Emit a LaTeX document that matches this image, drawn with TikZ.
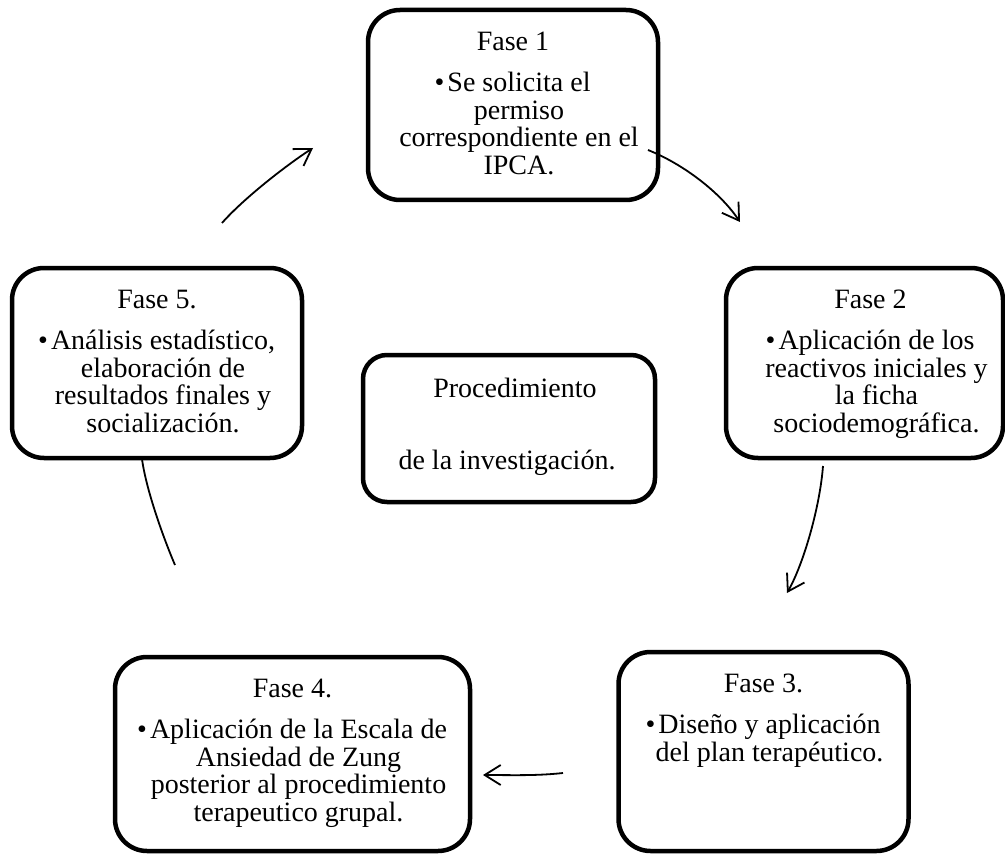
\documentclass[tikz,border=0pt]{standalone}
\usepackage{fontspec}
\setmainfont{Liberation Serif}
\usetikzlibrary{arrows.meta,calc}
\newcommand{\bfnt}{\fontsize{28}{27.5}\selectfont\lineskiplimit=-50pt\relax}
\newcommand{\fstl}{\rule{0pt}{26pt}\llap{•\kern3pt}}
\begin{document}
\begin{tikzpicture}[x=1pt,y=-1pt,
  box/.style={draw=black, line width=4.5pt, fill=white, rounded corners=#1, inner sep=0pt},
  box/.default=32pt,
  ttl/.style={anchor=base, inner sep=0pt, font=\bfnt},
  body/.style={anchor=north, inner sep=0pt, align=center, font=\bfnt},
  arr/.style={line width=1.8pt, -{Straight Barb[length=16pt,width=20pt,line width=1.8pt]}},
  conn/.style={line width=1.8pt}]
\useasboundingbox (0,0) rectangle (1005,856);
% boxes
\node[box, minimum width=290pt, minimum height=190pt] (b1) at (513,105) {};
\node[box, minimum width=277pt, minimum height=190pt] (b2) at (864.5,363) {};
\node[box, minimum width=290pt, minimum height=199pt] (b3) at (763.5,751.5) {};
\node[box, minimum width=355pt, minimum height=194pt] (b4) at (292.5,754) {};
\node[box, minimum width=290pt, minimum height=190pt] (b5) at (157,363) {};
\node[box=24pt, minimum width=292pt, minimum height=147pt] (bc) at (509,428.5) {};
% texts
\node[ttl] (t1) at ($(b1.north)+(0,43)$) {Fase 1};
\node[body] (d1) at ($(b1.north)+(6,58)$) {\fstl Se solicita el\\permiso\\correspondiente en el\\IPCA.};
\node[ttl] (t2) at ($(b2.north)+(6,43)$) {Fase 2};
\node[body] (d2) at ($(b2.north)+(12,58)$) {\fstl Aplicación de los\\reactivos iniciales y\\la ficha\\sociodemográfica.};
\node[ttl] (t3) at ($(b3.north)+(0,43)$) {Fase 3.};
\node[body] (d3) at ($(b3.north)+(6,58)$) {\fstl Diseño y aplicación\\del plan terapéutico.};
\node[ttl] (t4) at ($(b4.north)+(0,43)$) {Fase 4.};
\node[body] (d4) at ($(b4.north)+(6,58)$) {\fstl Aplicación de la Escala de\\Ansiedad de Zung\\posterior al procedimiento\\terapeutico grupal.};
\node[ttl] (t5) at ($(b5.north)+(0,43)$) {Fase 5.};
\node[body] (d5) at ($(b5.north)+(6,58)$) {\fstl Análisis estadístico,\\elaboración de\\resultados finales y\\socialización.};
\node[ttl] (tc1) at ($(bc.north)+(6,45)$) {Procedimiento};
\node[ttl] (tc2) at ($(bc.north)+(-2,117)$) {de la investigación.};
% arrows
\coordinate (a1s) at (648,150); \coordinate (a1e) at (740,222);
\coordinate (a2s) at (823,466); \coordinate (a2e) at (787,593);
\coordinate (a3s) at (563,773); \coordinate (a3e) at (483,775);
\coordinate (a4s) at (175,565); \coordinate (a4e) at (142,459);
\coordinate (a5s) at (222,223); \coordinate (a5e) at (313,148);
\draw[arr] (a1s) .. controls +(35,14) and +(-20,-30) .. (a1e);
\draw[arr] (a2s) .. controls +(-3,40) and +(17,-30) .. (a2e);
\draw[arr] (a3s) .. controls +(-27,3) and +(27,0) .. (a3e);
\draw[conn] (a4s) .. controls +(-12,-28) and +(4,30) .. (a4e);
\draw[arr] (a5s) .. controls +(22,-25) and +(-25,16) .. (a5e);
\end{tikzpicture}
\end{document}
